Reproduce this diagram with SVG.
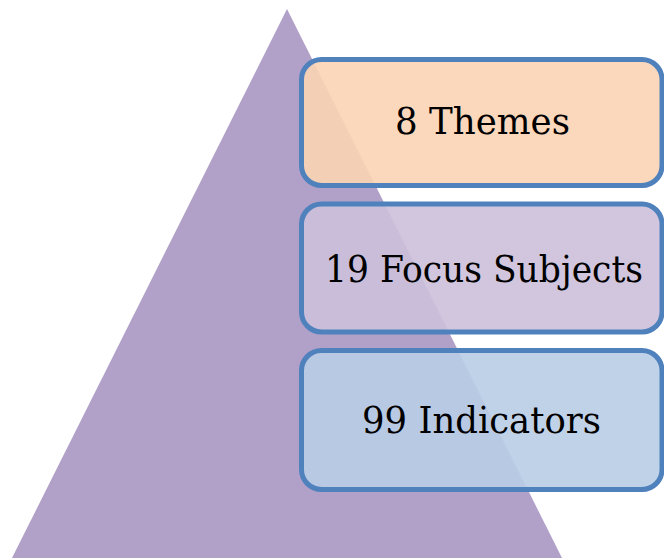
<svg xmlns="http://www.w3.org/2000/svg" width="664" height="558" viewBox="0 0 664 558">
<style>
.box{stroke:#4F81BD;stroke-width:5;fill-opacity:0.9}
.lbl{font-family:"DejaVu Serif","Liberation Serif",serif;font-size:37px;fill:#000;text-anchor:middle}
</style>
<rect width="664" height="558" fill="#FFFFFF"/>
<g id="pyramid"><polygon points="287,9 12,558 562,558" fill="#B1A0C7"/></g>
<g id="connectors"></g>
<g id="themes">
<rect class="box" x="301.5" y="59.5" width="360.5" height="126" rx="20" fill="#FBD4B4"/>
<text class="lbl" x="482.5" y="134" textLength="175" lengthAdjust="spacingAndGlyphs">8 Themes</text>
</g>
<g id="focus">
<rect class="box" x="301.5" y="204" width="360.5" height="128" rx="20" fill="#CCC0DA"/>
<text class="lbl" x="484" y="282" textLength="318" lengthAdjust="spacingAndGlyphs">19 Focus Subjects</text>
</g>
<g id="indicators">
<rect class="box" x="301.5" y="350.5" width="360.5" height="139" rx="20" fill="#B9CDE5"/>
<text class="lbl" x="481.5" y="433" textLength="239" lengthAdjust="spacingAndGlyphs">99 Indicators</text>
</g>
</svg>
